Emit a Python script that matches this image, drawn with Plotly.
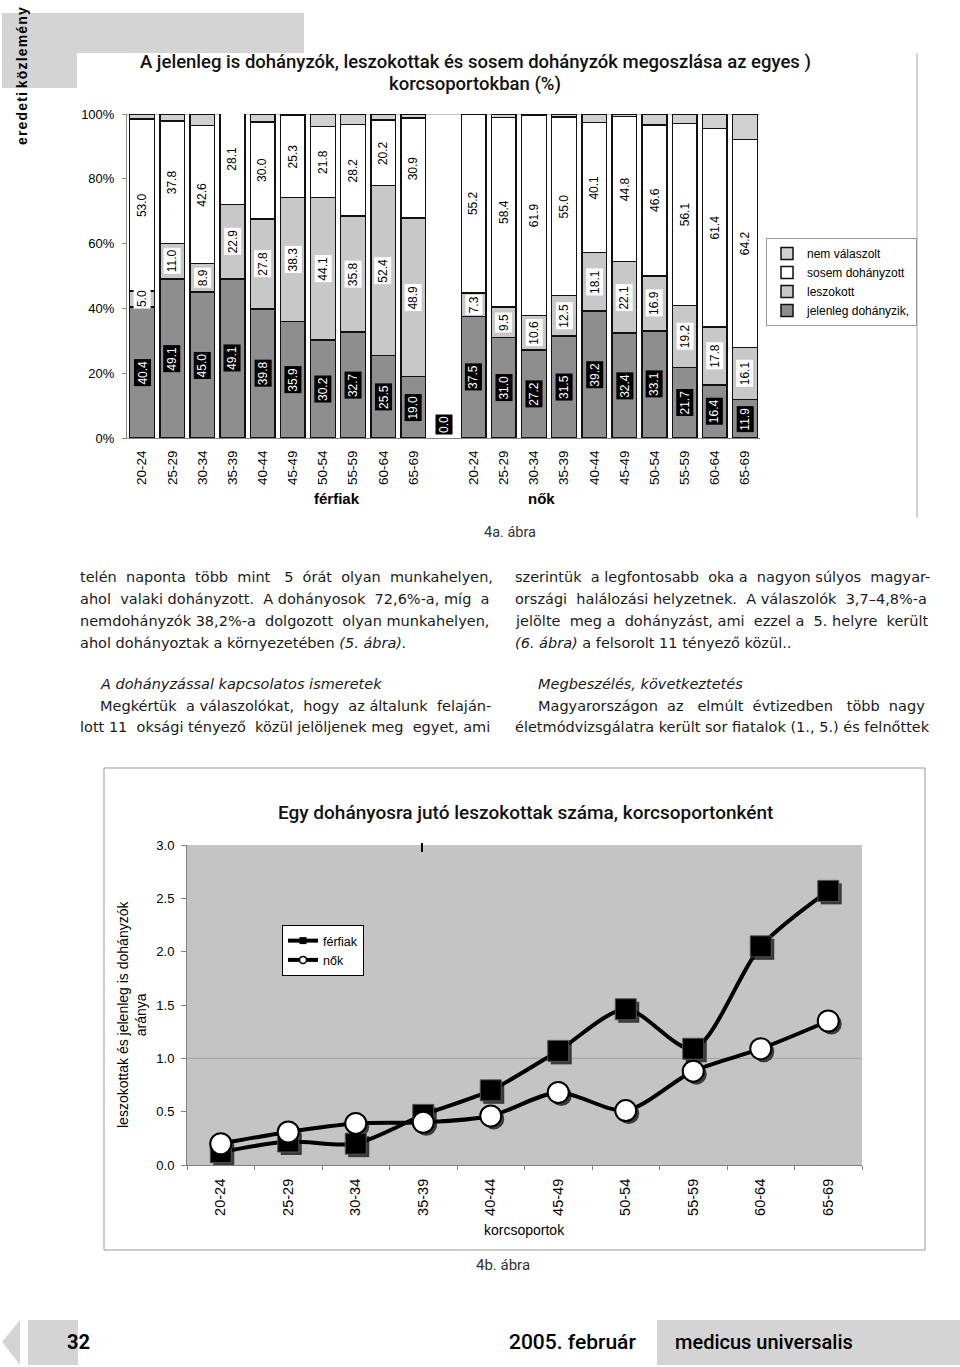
import plotly.graph_objects as go

W, H = 960, 1367


def px(x):
    return x / W


def py(y):
    return 1 - y / H


# ---------------- data ----------------
age_groups = ["20-24", "25-29", "30-34", "35-39", "40-44",
              "45-49", "50-54", "55-59", "60-64", "65-69"]

men_current = [40.4, 49.1, 45.0, 49.1, 39.8, 35.9, 30.2, 32.7, 25.5, 19.0]
men_quit = [5.0, 11.0, 8.9, 22.9, 27.8, 38.3, 44.1, 35.8, 52.4, 48.9]
men_never = [53.0, 37.8, 42.6, 28.1, 30.0, 25.3, 21.8, 28.2, 20.2, 30.9]
men_noanswer = [1.6, 2.1, 3.5, 0.0, 2.4, 0.5, 3.9, 3.3, 1.9, 1.2]

women_current = [37.5, 31.0, 27.2, 31.5, 39.2, 32.4, 33.1, 21.7, 16.4, 11.9]
women_quit = [7.3, 9.5, 10.6, 12.5, 18.1, 22.1, 16.9, 19.2, 17.8, 16.1]
women_never = [55.2, 58.4, 61.9, 55.0, 40.1, 44.8, 46.6, 56.1, 61.4, 64.2]
women_noanswer = [0.0, 1.1, 0.3, 1.0, 2.6, 0.7, 3.4, 3.0, 4.4, 7.8]

gap_current_label = 0.0  # empty separator column carries a "0.0" label

pct_ticks = [0, 20, 40, 60, 80, 100]

ratio_men = [0.12, 0.22, 0.20, 0.47, 0.70, 1.07, 1.46, 1.09, 2.05, 2.57]
ratio_women = [0.20, 0.31, 0.39, 0.40, 0.46, 0.68, 0.51, 0.88, 1.09, 1.35]

series_names = ["jelenleg dohányzik,", "leszokott", "sosem dohányzott", "nem válaszolt"]
series_colors = ["#8e8e8e", "#c8c8c8", "#ffffff", "#d0d0d0"]

# combined columns: men, separator, women
n_cols = len(age_groups) * 2 + 1
xpos = list(range(n_cols))
current = men_current + [None] + women_current
quit_ = men_quit + [None] + women_quit
never = men_never + [None] + women_never
noans = men_noanswer + [None] + women_noanswer
tick_vals = [i for i in xpos if i != len(age_groups)]
tick_text = age_groups + age_groups

ARIAL = "Liberation Sans, Arial, sans-serif"
BODY = "DejaVu Sans, sans-serif"
COND = "Roboto, sans-serif"

fig = go.Figure()

for vals, name, col in zip([current, quit_, never, noans], series_names, series_colors):
    fig.add_trace(go.Bar(
        x=xpos, y=vals, name=name, width=0.82,
        marker=dict(color=col, line=dict(color="#111111", width=1.5)),
        xaxis="x", yaxis="y", legend="legend", hoverinfo="skip",
    ))

annotations = []
# value labels of the stacked bars
for i in xpos:
    c = current[i]
    if c is None:
        annotations.append(dict(
            x=i, y=0, xref="x", yref="y", text=f"{gap_current_label:.1f}",
            showarrow=False, textangle=-90, yanchor="bottom", yshift=3,
            font=dict(family=ARIAL, size=12, color="white"),
            bgcolor="black", borderpad=1))
        continue
    q, n = quit_[i], never[i]
    annotations.append(dict(
        x=i, y=c / 2, xref="x", yref="y", text=f"{c:.1f}", showarrow=False,
        textangle=-90, font=dict(family=ARIAL, size=12, color="white"),
        bgcolor="black", borderpad=1))
    annotations.append(dict(
        x=i, y=c + q / 2, xref="x", yref="y", text=f"{q:.1f}", showarrow=False,
        textangle=-90, font=dict(family=ARIAL, size=12, color="black"),
        bgcolor="white", borderpad=1))
    annotations.append(dict(
        x=i, y=c + q + n / 2, xref="x", yref="y", text=f"{n:.1f}", showarrow=False,
        textangle=-90, font=dict(family=ARIAL, size=12, color="black")))

# ---------- line chart ----------
# marker shadows: drawn first, on a hidden subplot shifted by a few pixels
fig.add_trace(go.Scatter(
    x=age_groups, y=ratio_men, mode="markers", showlegend=False, hoverinfo="skip",
    marker=dict(symbol="square", size=21, color="#3a3a3a"), xaxis="x2", yaxis="y2"))
fig.add_trace(go.Scatter(
    x=age_groups, y=ratio_women, mode="markers", showlegend=False, hoverinfo="skip",
    marker=dict(symbol="circle", size=21, color="#3a3a3a"), xaxis="x2", yaxis="y2"))

fig.add_trace(go.Scatter(
    x=age_groups, y=ratio_men, mode="lines+markers", name="férfiak",
    line=dict(color="black", width=4, shape="spline", smoothing=0.8),
    marker=dict(symbol="square", size=21, color="black",
                line=dict(color="#555555", width=1)),
    xaxis="x3", yaxis="y3", showlegend=False, hoverinfo="skip"))
fig.add_trace(go.Scatter(
    x=age_groups, y=ratio_women, mode="lines+markers", name="nők",
    line=dict(color="black", width=4, shape="spline", smoothing=0.8),
    marker=dict(symbol="circle", size=21, color="white",
                line=dict(color="black", width=2)),
    xaxis="x3", yaxis="y3", showlegend=False, hoverinfo="skip"))
# legend entries (small symbols as in the original)
fig.add_trace(go.Scatter(
    x=[None], y=[None], mode="lines+markers", name="férfiak",
    line=dict(color="black", width=4),
    marker=dict(symbol="square", size=7, color="black"),
    xaxis="x3", yaxis="y3", legend="legend2"))
fig.add_trace(go.Scatter(
    x=[None], y=[None], mode="lines+markers", name="nők",
    line=dict(color="black", width=4),
    marker=dict(symbol="circle", size=7, color="white", line=dict(color="black", width=1.5)),
    xaxis="x3", yaxis="y3", legend="legend2"))


def txt(x, y, text, size=15, family=BODY, color="#1a1a1a", xanchor="left",
        angle=0, weight="normal"):
    annotations.append(dict(
        x=px(x), y=py(y), xref="paper", yref="paper", text=text,
        showarrow=False, xanchor=xanchor, yanchor="middle", textangle=angle,
        font=dict(family=family, size=size, color=color, weight=weight)))


def justify(text, extra_spaces):
    """Spread extra non-breaking spaces over the word gaps (justified text)."""
    words = text.split(" ")
    gaps = len(words) - 1
    if gaps <= 0 or extra_spaces <= 0:
        return text
    out = words[0]
    given = 0
    for g in range(gaps):
        target = round((g + 1) * extra_spaces / gaps)
        add = target - given
        given = target
        out += " " + "\u00a0" * add + words[g + 1]
    return out


# titles and captions
txt(475, 62, "A jelenleg is dohányzók, leszokottak és sosem dohányzók megoszlása az egyes )",
    size=18.5, family=COND, color="#111111", xanchor="center", weight=500)
txt(475, 84, "korcsoportokban (%)", size=18.5, family=COND, color="#111111", xanchor="center",
    weight=500)
txt(337, 498, "férfiak", size=15, family=ARIAL, color="black", xanchor="center", weight="bold")
txt(541, 498, "nők", size=15, family=ARIAL, color="black", xanchor="center", weight="bold")
txt(510, 532, "4a. ábra", size=14.5, family=COND, color="#333333", xanchor="center")
txt(22, 76, "e\u200ar\u200ae\u200ad\u200ae\u200at\u200ai k\u200aö\u200az\u200al\u200ae\u200am\u200aé\u200an\u200ay",
    size=14, family=ARIAL, color="black", xanchor="center", angle=-90, weight="bold")

# body text: (x, y, text, extra spaces for justification)
left_lines = [
    (78, 577, "telén naponta több mint 5 órát olyan munkahelyen,", 8),
    (78, 599, "ahol valaki dohányzott. A dohányosok 72,6%-a, míg a", 4),
    (78, 621, "nemdohányzók 38,2%-a dolgozott olyan munkahelyen,", 2),
    (78, 643, "ahol dohányoztak a környezetében <i>(5. ábra).</i>", 0),
    (98, 684, "<i>A dohányzással kapcsolatos ismeretek</i>", 0),
    (98, 706, "Megkértük a válaszolókat, hogy az általunk felaján-", 4),
    (78, 727, "lott 11 oksági tényező közül jelöljenek meg egyet, ami", 3),
]
right_lines = [
    (513, 577, "szerintük a legfontosabb oka a nagyon súlyos magyar-", 4),
    (513, 599, "országi halálozási helyzetnek. A válaszolók 3,7–4,8%-a", 3),
    (513, 621, "jelölte meg a dohányzást, ami ezzel a 5. helyre került", 5),
    (513, 643, "<i>(6. ábra)</i> a felsorolt 11 tényező közül..", 0),
    (536, 684, "<i>Megbeszélés, következtetés</i>", 0),
    (536, 706, "Magyarországon az elmúlt évtizedben több nagy", 7),
    (513, 727, "életmódvizsgálatra került sor fiatalok (1., 5.) és felnőttek", 0),
]
for x, y, t, ex in left_lines + right_lines:
    txt(x, y, justify(t, ex), size=14.5)

# line chart texts
txt(525, 812, "Egy dohányosra jutó leszokottak száma, korcsoportonként",
    size=19, family=COND, color="#111111", xanchor="center", weight=500)
txt(132, 1015, "leszokottak és jelenleg is dohányzók<br>aránya", size=14,
    family=ARIAL, color="black", xanchor="center", angle=-90)
txt(524, 1230, "korcsoportok", size=14, family=ARIAL, color="black", xanchor="center")
txt(503, 1265, "4b. ábra", size=15, family=COND, color="#333333", xanchor="center")

# footer
txt(78, 1342, "32", size=20, family=COND, color="black", xanchor="center", weight="bold")
txt(572, 1342, "2005. február", size=21, family=COND, color="black", xanchor="center", weight=500)
txt(764, 1342, "medicus universalis", size=20, family=COND, color="black",
    xanchor="center", weight=500)

shapes = []


def rect(x0, y0, x1, y1, fill=None, line=None, lw=1, layer="below"):
    shapes.append(dict(type="rect", xref="paper", yref="paper",
                       x0=px(x0), x1=px(x1), y0=py(y1), y1=py(y0),
                       fillcolor=fill if fill else "rgba(0,0,0,0)",
                       line=dict(color=line if line else "rgba(0,0,0,0)", width=lw if line else 0),
                       layer=layer))


def seg(x0, y0, x1, y1, color, w=1):
    shapes.append(dict(type="line", xref="paper", yref="paper",
                       x0=px(x0), x1=px(x1), y0=py(y0), y1=py(y1),
                       line=dict(color=color, width=w)))


# line chart plot area (pixels)
LX0, LX1, LY0, LY1 = 187, 862, 845, 1165

GRAY = "#d4d4d4"
rect(2, 13, 77, 88, fill=GRAY)
rect(28, 13, 304, 53, fill=GRAY)
rect(28, 1320, 78, 1365, fill=GRAY)
rect(657, 1320, 960, 1365, fill=GRAY)
shapes.append(dict(type="path", xref="paper", yref="paper",
                   path=f"M {px(20)} {py(1320)} L {px(2)} {py(1342)} L {px(20)} {py(1365)} Z",
                   fillcolor=GRAY, line=dict(width=0), layer="below"))
seg(917, 53, 917, 518, "#aaaaaa", 1)
rect(104, 768, 925, 1250, line="#999999", lw=1)
# grey plot area of the line chart
rect(LX0, LY0, LX1, LY1, fill="#c4c4c4")

# 100% reference line of the bar chart
shapes.append(dict(type="line", xref="x domain", yref="y", x0=0, x1=1, y0=100, y1=100,
                   line=dict(color="#888888", width=1), layer="below"))
shapes.append(dict(type="line", xref="x3 domain", yref="y3", x0=0, x1=1, y0=1.0, y1=1.0,
                   line=dict(color="#a0a0a0", width=1), layer="below"))
# small stray tick of the original scan
seg(422, 843, 422, 852, "black", 2)

LINE_X_RANGE = [-0.5, 9.5]
LINE_Y_RANGE = [0, 3]
sh = 3  # shadow offset in pixels
hidden = dict(visible=False, fixedrange=True, showgrid=False, zeroline=False)

fig.update_layout(
    width=W, height=H, margin=dict(l=0, r=0, t=0, b=0, pad=0, autoexpand=False),
    paper_bgcolor="white", plot_bgcolor="rgba(0,0,0,0)",
    barmode="stack", bargap=0.18, showlegend=True,
    font=dict(family=ARIAL, color="black"),
    xaxis=dict(domain=[px(127), px(760)], range=[-0.5, n_cols - 0.5],
               tickmode="array", tickvals=tick_vals, ticktext=tick_text,
               tickangle=-90, tickfont=dict(family=ARIAL, size=13.5, color="black"),
               ticklabelstandoff=6, automargin=False,
               showgrid=False, zeroline=False, showline=True, linecolor="#888888",
               ticks="", anchor="y", fixedrange=True),
    yaxis=dict(domain=[py(438), py(114)], range=[0, 100], tickmode="array",
               tickvals=pct_ticks, ticktext=[f"{v}%" for v in pct_ticks],
               tickfont=dict(family=ARIAL, size=13, color="black"),
               ticklabelstandoff=5, automargin=False,
               showgrid=False, zeroline=False, showline=True, linecolor="#888888",
               ticks="outside", ticklen=4, tickcolor="#888888", anchor="x", fixedrange=True),
    xaxis2=dict(domain=[px(LX0 + sh), px(LX1 + sh)], type="category", anchor="y2",
                range=LINE_X_RANGE, automargin=False, **hidden),
    yaxis2=dict(domain=[py(LY1 + sh), py(LY0 + sh)], anchor="x2", range=LINE_Y_RANGE,
                automargin=False, **hidden),
    xaxis3=dict(domain=[px(LX0), px(LX1)], type="category", tickangle=-90,
                tickfont=dict(family=ARIAL, size=14.5, color="black"),
                ticklabelstandoff=7, automargin=False,
                showgrid=False, zeroline=False, showline=True, linecolor="#808080",
                ticks="outside", tickson="boundaries", ticklen=4, tickcolor="#808080",
                anchor="y3", range=LINE_X_RANGE, fixedrange=True),
    yaxis3=dict(domain=[py(LY1), py(LY0)], range=LINE_Y_RANGE, dtick=0.5, tickformat=".1f",
                tickfont=dict(family=ARIAL, size=13, color="black"),
                ticklabelstandoff=4, automargin=False,
                showgrid=False, zeroline=False, showline=True, linecolor="#808080",
                ticks="outside", ticklen=5, tickcolor="#808080", anchor="x3", fixedrange=True),
    legend=dict(x=px(766), y=py(238), xanchor="left", yanchor="top",
                traceorder="reversed", bgcolor="white", bordercolor="#999999",
                borderwidth=1, font=dict(family=ARIAL, size=12, color="black"),
                tracegroupgap=0, itemwidth=30),
    legend2=dict(x=px(282), y=py(925), xanchor="left", yanchor="top",
                 bgcolor="white", bordercolor="black", borderwidth=1,
                 font=dict(family=ARIAL, size=12.5, color="black"),
                 tracegroupgap=0, itemwidth=30),
    annotations=annotations, shapes=shapes,
)

post = (
    "var s=document.createElement('style');"
    "s.textContent='html,body{margin:0;padding:0;overflow:hidden;}';"
    "document.head.appendChild(s);"
)
fig.write_html("out.html", config={"displayModeBar": False}, post_script=post)
